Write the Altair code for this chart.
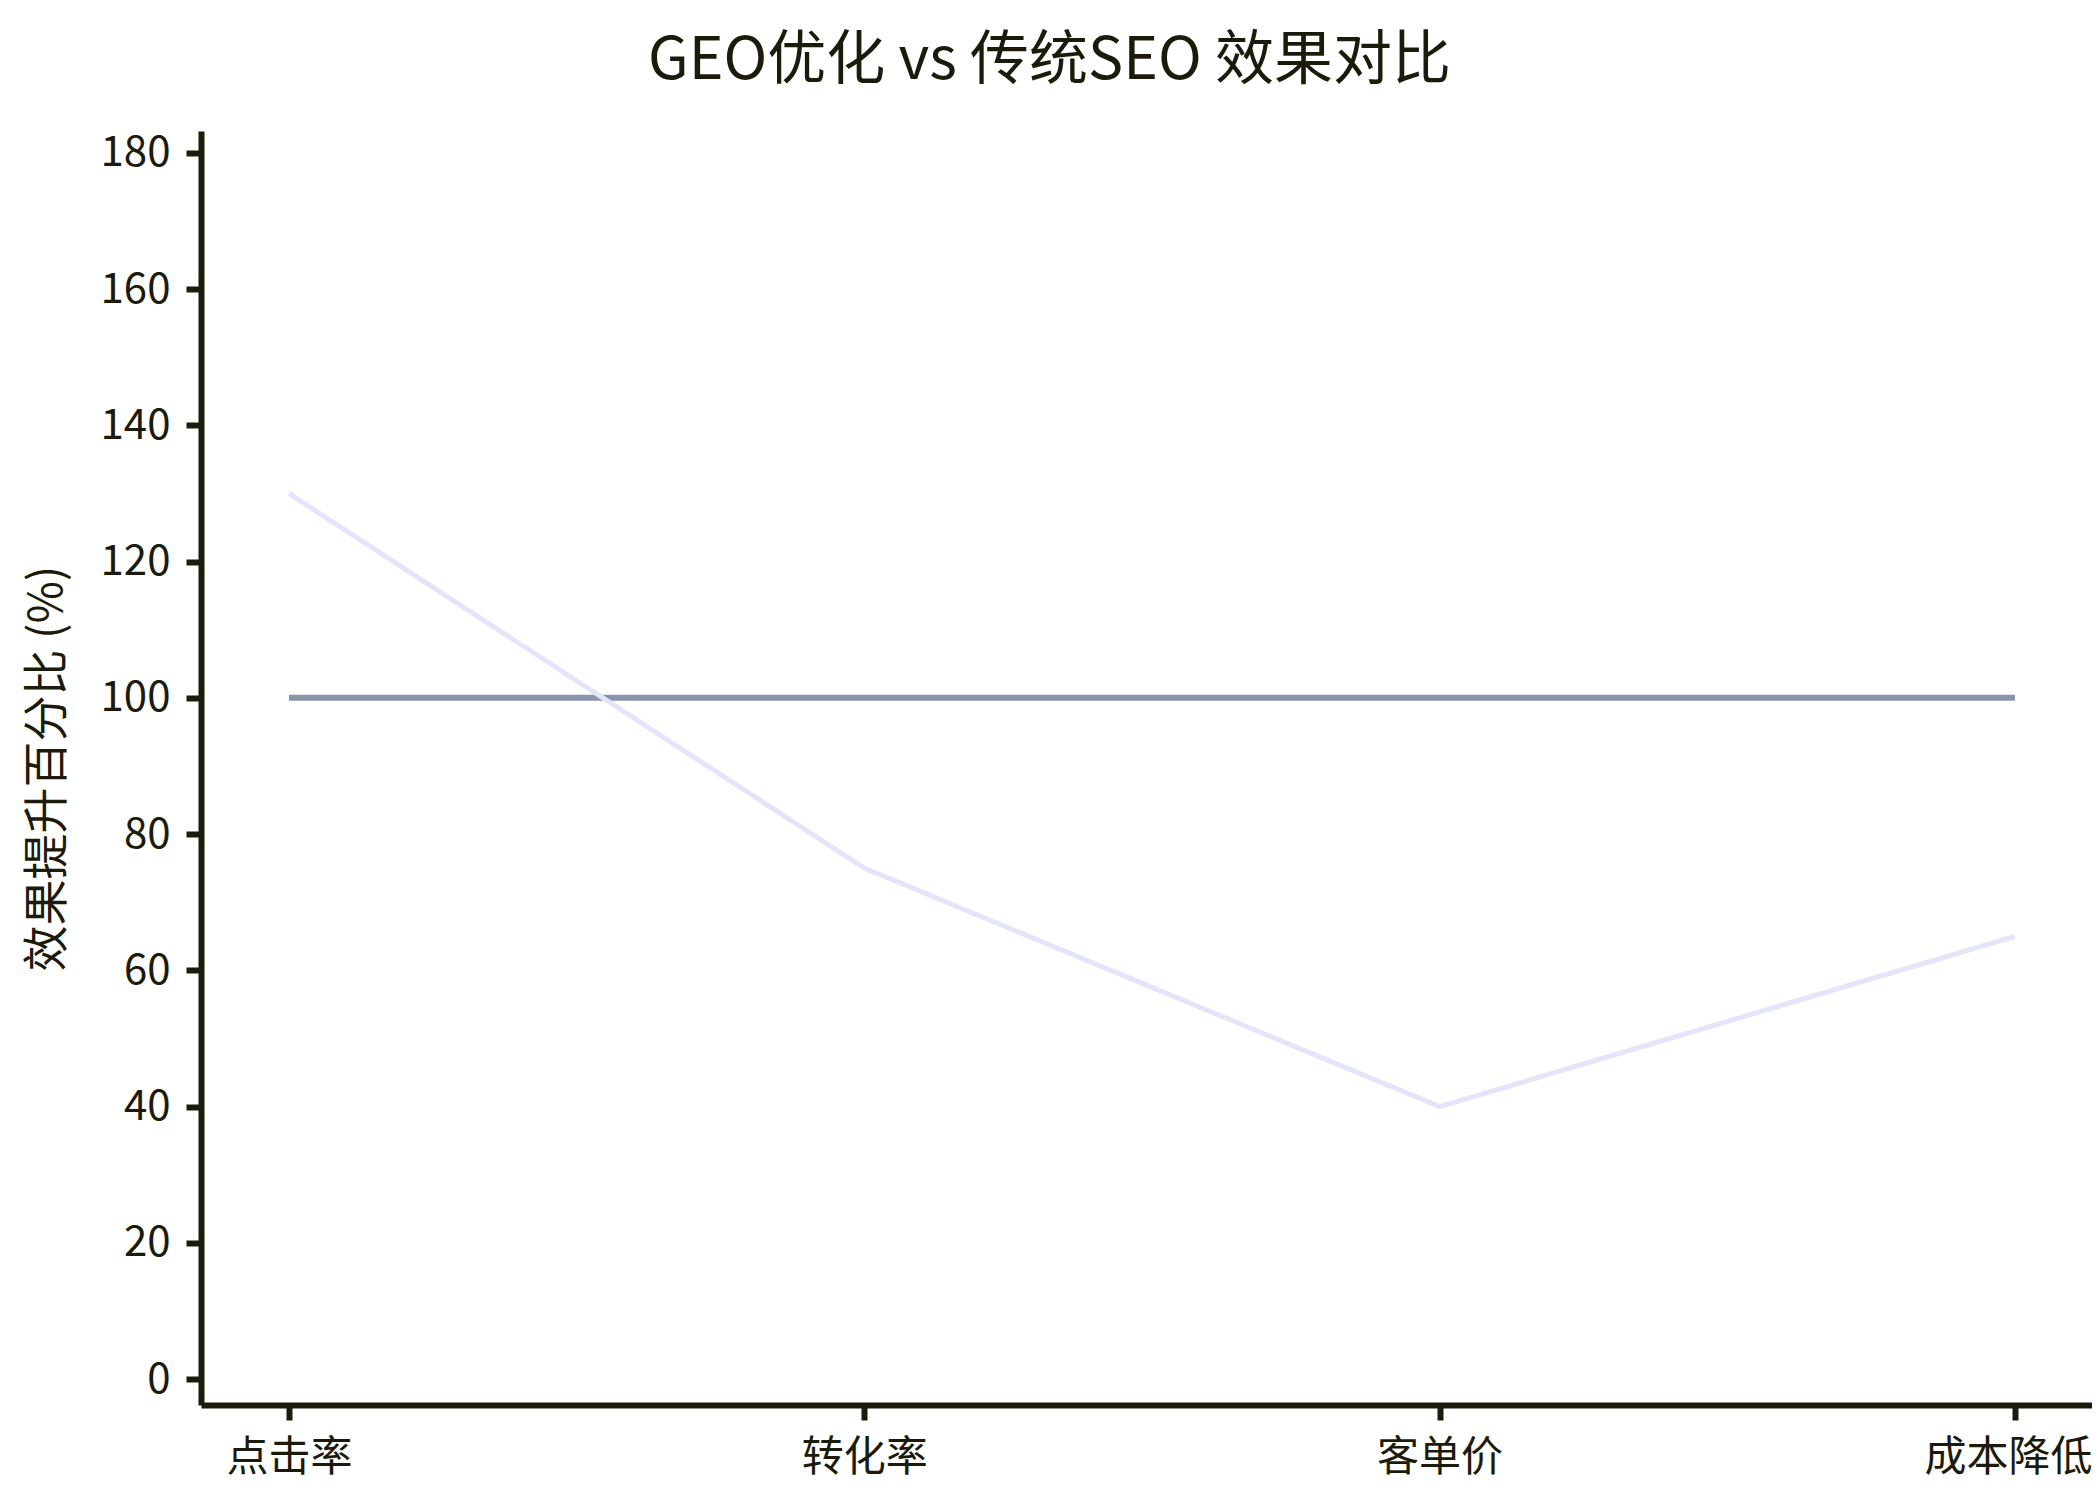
import altair as alt
import pandas as pd

categories = ["点击率", "转化率", "客单价", "成本降低"]
geo_values = [130, 75, 40, 65]
seo_values = [100, 100, 100, 100]
series_names = ["GEO优化", "传统SEO"]

rows = []
for c, g, s in zip(categories, geo_values, seo_values):
    rows.append({"指标": c, "系列": series_names[0], "值": g})
    rows.append({"指标": c, "系列": series_names[1], "值": s})
df = pd.DataFrame(rows)

FONT = "Noto Sans CJK SC"
INK = "#1c1a0b"

x_enc = alt.X(
    "指标:N",
    sort=categories,
    scale=alt.Scale(type="point", padding=0.1434, align=0.533),
    axis=alt.Axis(
        title=None,
        labelAngle=0,
        labelPadding=17,
        labelOffset={
            "condition": {"test": "datum.value === '成本降低'", "value": -7},
            "value": 0,
        },
    ),
)
y_enc = alt.Y(
    "值:Q",
    scale=alt.Scale(domain=[-3.8, 183.2], nice=False, zero=False),
    axis=alt.Axis(
        title="效果提升百分比 (%)",
        values=[0, 20, 40, 60, 80, 100, 120, 140, 160, 180],
        labelPadding=16,
        titlePadding=29,
    ),
)

base = alt.Chart(df)
seo = base.transform_filter(alt.datum["系列"] == series_names[1]).mark_line(
    color="#8794ab", strokeWidth=6
).encode(x=x_enc, y=y_enc)
geo = base.transform_filter(alt.datum["系列"] == series_names[0]).mark_line(
    color="#e4e4fa", strokeWidth=5
).encode(x=x_enc, y=y_enc)

chart = (
    alt.layer(seo, geo)
    .properties(
        width=1891,
        height=1274,
        title=alt.TitleParams(
            "GEO优化 vs 传统SEO 效果对比",
            fontSize=59,
            fontWeight="normal",
            font=FONT,
            color=INK,
            anchor="middle",
            frame="group",
            dx=-97,
            offset=40,
        ),
        autosize=alt.AutoSizeParams(type="none"),
        padding={"left": 193, "top": 123, "right": 0, "bottom": 80},
    )
    .configure(font=FONT, background="white")
    .configure_view(stroke=None)
    .configure_axis(
        grid=False,
        domainColor=INK,
        domainWidth=6,
        tickColor=INK,
        tickWidth=6,
        tickSize=15,
        labelFont=FONT,
        labelFontSize=42,
        labelColor=INK,
        titleFont=FONT,
        titleFontSize=46,
        titleFontWeight="normal",
        titleColor=INK,
    )
)

chart.save("out.html", embed_options={"renderer": "svg", "actions": False})
